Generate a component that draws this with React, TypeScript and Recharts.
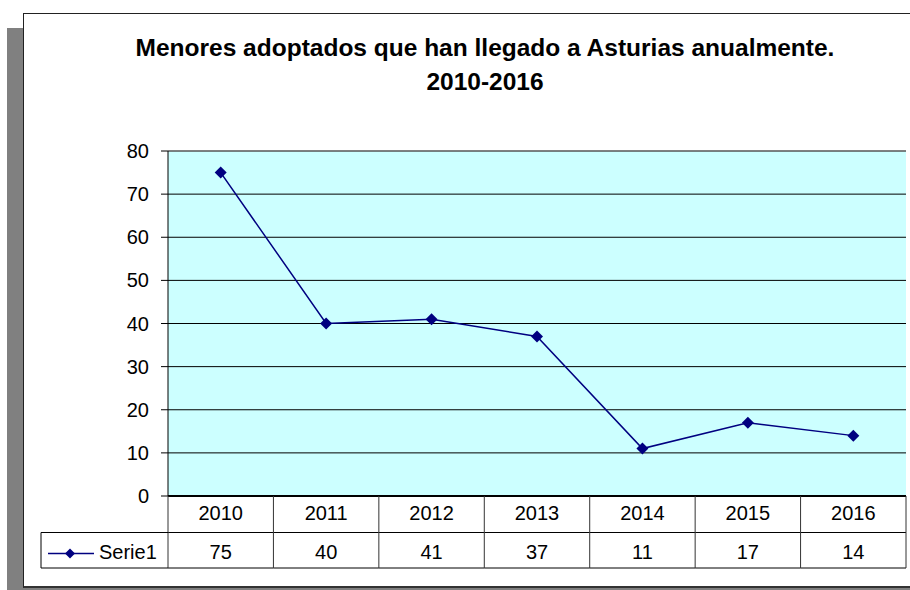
import React from "react"
import { LineChart, Line, XAxis, YAxis, CartesianGrid, ReferenceLine } from "recharts"

const years = ["2010", "2011", "2012", "2013", "2014", "2015", "2016"]
const serie1 = [75, 40, 41, 37, 11, 17, 14]
const yTicks = [0, 10, 20, 30, 40, 50, 60, 70, 80]
const seriesName = "Serie1"
const titleLines = ["Menores adoptados que han llegado a Asturias anualmente.", "2010-2016"]

const data = years.map((year, i) => ({ year, value: serie1[i] }))

const FONT = "'Liberation Sans', Arial, sans-serif"
const NAVY = "#000080"
const LEGEND_W = 127

function Diamond({ cx, cy, r = 6 }: { cx: number; cy: number; r?: number }) {
  return <path d={`M${cx},${cy - r}L${cx + r},${cy}L${cx},${cy + r}L${cx - r},${cy}Z`} fill={NAVY} />
}

// x axis ticks draw the data table under the plot
function TableTick(props: any) {
  const { x, y, payload, index, width, visibleTicksCount } = props
  const colW = width / (visibleTicksCount || years.length)
  const left = x - colW / 2
  const right = x + colW / 2
  const row1 = y + 36.5
  const row2 = y + 72
  const isLast = index === years.length - 1
  return (
    <g fontFamily={FONT} fontSize={20} fill="#000">
      <text x={x} y={y + 23.5} textAnchor="middle">{payload.value}</text>
      <text x={x} y={y + 62.5} textAnchor="middle">{serie1[index]}</text>
      <line x1={left} x2={right} y1={row1} y2={row1} stroke="#000" />
      <line x1={left} x2={right} y1={row2} y2={row2} stroke="#000" />
      <line x1={left} x2={left} y1={y} y2={row2} stroke="#333" />
      {isLast && <line x1={right} x2={right} y1={y} y2={row2} stroke="#333" />}
      {index === 0 && (
        <g>
          <line x1={left - LEGEND_W} x2={left} y1={row1} y2={row1} stroke="#000" />
          <line x1={left - LEGEND_W} x2={left} y1={row2} y2={row2} stroke="#000" />
          <line x1={left - LEGEND_W} x2={left - LEGEND_W} y1={row1} y2={row2} stroke="#000" />
          <line x1={left - LEGEND_W + 7} x2={left - LEGEND_W + 53} y1={y + 57.5} y2={y + 57.5} stroke={NAVY} strokeWidth={1.5} />
          <Diamond cx={left - LEGEND_W + 29} cy={y + 57.5} r={5} />
          <text x={left - LEGEND_W + 58} y={y + 63} textAnchor="start">{seriesName}</text>
        </g>
      )}
    </g>
  )
}

export default function App() {
  return (
    <div style={{ position: "absolute", left: 0, top: 0, width: 910, height: 590, overflow: "hidden", background: "#fff" }}>
      <div style={{ position: "absolute", left: 7, top: 28, width: 903, height: 562, background: "#808080" }} />
      <div style={{ position: "absolute", left: 23, top: 13, width: 900, height: 572, background: "#fff", borderTop: "1px solid #222", borderLeft: "1px solid #222", borderBottom: "2px solid #333" }} />
      <svg style={{ position: "absolute", left: 0, top: 0 }} width={910} height={120}>
        {titleLines.map((t, i) => (
          <text key={i} x={485} y={56 + i * 34} textAnchor="middle" fontFamily={FONT} fontWeight="bold" fontSize={24.5} fill="#000">{t}</text>
        ))}
      </svg>
      <div style={{ position: "absolute", left: 0, top: 0 }}>
        <LineChart width={910} height={590} data={data} margin={{ top: 151, right: 4, bottom: 22, left: 0 }}>
          <CartesianGrid vertical={false} stroke="#000" fill="#CCFFFF" fillOpacity={1} />
          <ReferenceLine y={80} stroke="#808080" />
          <XAxis dataKey="year" scale="band" height={72} tickSize={0} tickMargin={0} tickLine={false}
            axisLine={{ stroke: "#000", strokeWidth: 2 }} tick={<TableTick />} interval={0} />
          <YAxis domain={[0, 80]} ticks={yTicks} width={168} tickSize={7} tickMargin={12}
            axisLine={{ stroke: "#000" }} tickLine={{ stroke: "#000" }}
            tick={{ fill: "#000", fontSize: 20, fontFamily: FONT }} />
          <YAxis yAxisId="right" orientation="right" width={0} tick={false} tickLine={false} axisLine={{ stroke: "#808080" }} />
          <Line dataKey="value" name={seriesName} stroke={NAVY} strokeWidth={1.5} isAnimationActive={false}
            dot={(p: any) => <Diamond key={p.index} cx={p.cx} cy={p.cy} />} activeDot={false} />
        </LineChart>
      </div>
    </div>
  )
}
